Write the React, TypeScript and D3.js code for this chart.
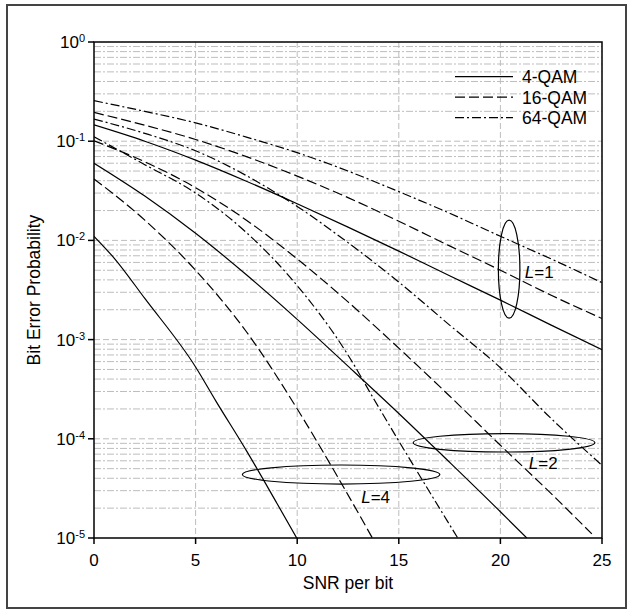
import React from 'react';
import * as d3 from 'd3';

// x ticks (SNR per bit, dB) and y decades
const snrTicks = [0, 5, 10, 15, 20, 25];
const decadeExps = [0, -1, -2, -3, -4, -5];
const minorMults = [2, 3, 4, 5, 6, 7, 8, 9];

// [SNR dB, bit error probability]
const qam4L1 = [[0, 0.146], [2.5, 0.1], [5, 0.0645], [7.5, 0.0395], [10, 0.0234], [12.5, 0.0136], [15, 0.0078], [17.5, 0.0044], [20, 0.0025], [22.5, 0.0014], [25, 0.00079]];
const qam16L1 = [[0, 0.195], [2.5, 0.145], [5, 0.104], [7.5, 0.07], [10, 0.0445], [12.5, 0.027], [15, 0.0156], [17.5, 0.0088], [20, 0.005], [22.5, 0.0028], [25, 0.00163]];
const qam64L1 = [[0, 0.256], [2.5, 0.2], [5, 0.153], [7.5, 0.11], [10, 0.0766], [12.5, 0.05], [15, 0.031], [17.5, 0.0188], [20, 0.011], [22.5, 0.0065], [25, 0.00375]];

const qam4L2 = [[0, 0.06], [2.5, 0.028], [5, 0.0118], [7.5, 0.0045], [10, 0.0016], [12.5, 0.00054], [15, 0.00018], [17.5, 0.000058], [20, 0.0000184], [21.3, 0.00001]];
const qam16L2 = [[0, 0.101], [2.5, 0.062], [5, 0.034], [7.5, 0.016], [10, 0.0065], [12.5, 0.0024], [15, 0.00082], [17.5, 0.00027], [20, 0.000086], [22.5, 0.000028], [24.5, 0.000011]];
const qam64L2 = [[0, 0.167], [2.5, 0.12], [5, 0.08], [7.5, 0.045], [10, 0.022], [12.5, 0.0095], [15, 0.0038], [17.5, 0.0014], [20, 0.00052], [22.5, 0.00016], [25, 0.000054]];

const qam4L4 = [[0, 0.011], [1, 0.0066], [2.5, 0.0026], [5, 0.00053], [6, 0.00024], [7.5, 0.000076], [9, 0.0000224], [10, 0.0000098]];
const qam16L4 = [[0, 0.0417], [2.5, 0.016], [5, 0.005], [7.5, 0.0012], [10.14, 0.00018], [12, 0.000041], [13.7, 0.00001]];
const qam64L4 = [[0, 0.111], [2.5, 0.058], [5, 0.03], [7.5, 0.012], [10, 0.0035], [12.5, 0.0007], [13.8, 0.000246], [15, 0.000095], [17.9, 0.00001]];

const legendLabels = ['4-QAM', '16-QAM', '64-QAM'];
const dashes = ['none', '10,4', '9,3,2,3'];

const series = [
  { data: qam4L1, kind: 0 }, { data: qam16L1, kind: 1 }, { data: qam64L1, kind: 2 },
  { data: qam4L2, kind: 0 }, { data: qam16L2, kind: 1 }, { data: qam64L2, kind: 2 },
  { data: qam4L4, kind: 0 }, { data: qam16L4, kind: 1 }, { data: qam64L4, kind: 2 },
];

// diversity-order groupings: centre (snr, log10 ber), half-width in dB, half-height in decades
const groups = [
  { label: '1', cx: 20.43, cy: -2.29, rx: 0.53, ry: 0.494, tx: 21.2, ty: -2.38 },
  { label: '2', cx: 20.18, cy: -4.04, rx: 4.47, ry: 0.093, tx: 21.4, ty: -4.3 },
  { label: '4', cx: 12.16, cy: -4.36, rx: 4.86, ry: 0.096, tx: 13.15, ty: -4.65 },
];

const margin = { top: 42, right: 31, bottom: 76, left: 94 };
const W = 633;
const H = 614;
const font = 'Arial, "Liberation Sans", Helvetica, sans-serif';

export default function App() {
  const innerW = W - margin.left - margin.right;
  const innerH = H - margin.top - margin.bottom;

  const x = d3.scaleLinear().domain([0, 25]).range([margin.left, margin.left + innerW]);
  const y = d3.scaleLog().domain([1e-5, 1]).range([margin.top + innerH, margin.top]);

  const line = d3
    .line<number[]>()
    .x(d => x(d[0]))
    .y(d => y(d[1]))
    .curve(d3.curveMonotoneX);

  const minorVals: number[] = [];
  decadeExps.slice(1).forEach(e => {
    minorMults.forEach(m => minorVals.push(m * Math.pow(10, e)));
  });

  const grey = '#bdbdbd';

  return (
    <svg
      width={W}
      height={H}
      style={{ position: 'absolute', left: 0, top: 0, background: '#fff' }}
      fontFamily={font}
    >
      <defs>
        <clipPath id="plot">
          <rect x={margin.left} y={margin.top} width={innerW} height={innerH} />
        </clipPath>
      </defs>

      {/* outer frame */}
      <rect x={7} y={5} width={619} height={603} fill="none" stroke="#444" strokeWidth={2} />

      {/* grid */}
      <g stroke={grey} strokeWidth={1} fill="none">
        {minorVals.map(v => (
          <line key={'m' + v} x1={margin.left} x2={margin.left + innerW} y1={y(v)} y2={y(v)} strokeDasharray="7,2,2,2" />
        ))}
        {decadeExps.slice(1, -1).map(e => (
          <line key={'d' + e} x1={margin.left} x2={margin.left + innerW} y1={y(Math.pow(10, e))} y2={y(Math.pow(10, e))} strokeDasharray="6,3" />
        ))}
        {snrTicks.slice(1, -1).map(t => (
          <line key={'v' + t} x1={x(t)} x2={x(t)} y1={margin.top} y2={margin.top + innerH} strokeDasharray="6,3" />
        ))}
      </g>

      {/* curves */}
      <g clipPath="url(#plot)" fill="none" stroke="#000" strokeWidth={1.2}>
        {series.map((s, i) => (
          <path key={i} d={line(s.data) || ''} strokeDasharray={dashes[s.kind]} />
        ))}
      </g>

      {/* ellipses and labels */}
      <g fill="none" stroke="#000" strokeWidth={1.2}>
        {groups.map(g => (
          <ellipse
            key={'e' + g.label}
            cx={x(g.cx)}
            cy={y(Math.pow(10, g.cy))}
            rx={x(g.cx + g.rx) - x(g.cx)}
            ry={y(Math.pow(10, g.cy - g.ry)) - y(Math.pow(10, g.cy))}
          />
        ))}
      </g>
      {groups.map(g => (
        <text key={'t' + g.label} x={x(g.tx)} y={y(Math.pow(10, g.ty))} fontSize={17}>
          <tspan fontStyle="italic">L</tspan>={g.label}
        </text>
      ))}

      {/* legend */}
      {legendLabels.map((lab, i) => {
        const ly = 76.7 + i * 20.5;
        return (
          <g key={lab}>
            <line x1={455} x2={513} y1={ly} y2={ly} stroke="#000" strokeWidth={1.2} strokeDasharray={dashes[i]} />
            <text x={522} y={ly + 6.5} fontSize={17.5}>{lab}</text>
          </g>
        );
      })}

      {/* axes box */}
      <rect x={margin.left} y={margin.top} width={innerW} height={innerH} fill="none" stroke="#000" strokeWidth={1.5} />

      {/* y ticks */}
      {decadeExps.map(e => {
        const ty = y(Math.pow(10, e));
        return (
          <g key={'yt' + e}>
            <line x1={margin.left - 6} x2={margin.left} y1={ty} y2={ty} stroke="#000" strokeWidth={1.5} />
            <text x={85} y={ty + 6} textAnchor="end" fontSize={17}>
              10<tspan dy={-6} fontSize={11}>{e}</tspan>
            </text>
          </g>
        );
      })}

      {/* x ticks */}
      {snrTicks.map(t => (
        <g key={'xt' + t}>
          <line x1={x(t)} x2={x(t)} y1={margin.top + innerH} y2={margin.top + innerH + 6} stroke="#000" strokeWidth={1.5} />
          <text x={x(t)} y={margin.top + innerH + 28} textAnchor="middle" fontSize={17}>{t}</text>
        </g>
      ))}

      <text x={margin.left + innerW / 2} y={589} textAnchor="middle" fontSize={17.5}>SNR per bit</text>
      <text
        transform={`translate(40,${margin.top + innerH / 2}) rotate(-90)`}
        textAnchor="middle"
        fontSize={17.5}
      >
        Bit Error Probability
      </text>
    </svg>
  );
}
